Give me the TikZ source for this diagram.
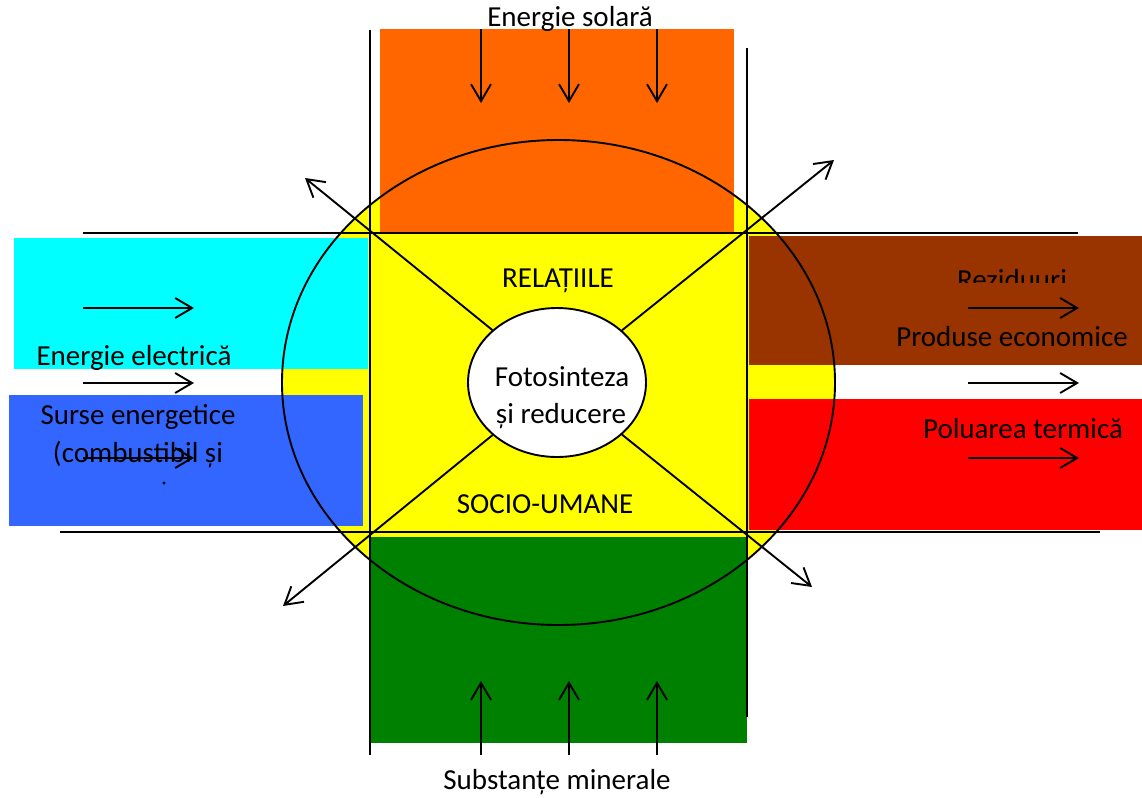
\documentclass[tikz,border=0pt]{standalone}
\usepackage{fontspec}
\setmainfont{Carlito}
\usetikzlibrary{arrows.meta,shapes.geometric}
\definecolor{corange}{HTML}{FF6600}
\definecolor{ccyan}{HTML}{00FFFF}
\definecolor{cblue}{HTML}{3366FF}
\definecolor{cbrown}{HTML}{993300}
\definecolor{cred}{HTML}{FF0000}
\definecolor{cgreen}{HTML}{008000}
\definecolor{cyellow}{HTML}{FFFF00}
\tikzset{
  ln/.style={line width=1.9pt, black},
  arr/.style={line width=1.9pt, black, -{Straight Barb[length=17pt,width=20pt,line width=1.9pt]}},
  lbl/.style={inner sep=0pt, anchor=base, font=\fontsize{29}{34}\selectfont},
}
\begin{document}
\begin{tikzpicture}[x=1pt,y=-1pt]
\useasboundingbox (0,0) rectangle (1142,797);
% yellow field
\coordinate (c) at (558.5,382.5);
\fill[cyellow] (c) ellipse [x radius=276.5pt, y radius=242.5pt];
% coloured boxes
\fill[corange] (380,29) rectangle (734,232);
\fill[ccyan] (14,238) rectangle (368,369);
\fill[cblue] (9,395) rectangle (363,526);
\fill[cbrown] (749,236) rectangle (1142,365);
\fill[cred] (749,399) rectangle (1142,530);
\fill[cgreen] (371,537) rectangle (747,743);
% frame lines
\coordinate (h1a) at (83,233);  \coordinate (h1b) at (1078,233);
\coordinate (h2a) at (60,532);  \coordinate (h2b) at (1100,532);
\coordinate (v1a) at (370,30);  \coordinate (v1b) at (370,755);
\coordinate (v2a) at (747,48);  \coordinate (v2b) at (747,717);
\draw[ln] (h1a) -- (h1b);
\draw[ln] (h2a) -- (h2b);
\draw[ln] (v1a) -- (v1b);
\draw[ln] (v2a) -- (v2b);
% outer ellipse outline
\draw[ln] (c) ellipse [x radius=276.5pt, y radius=242.5pt];
% inner ellipse
\node[ellipse, draw, line width=1.9pt, fill=white, minimum width=178pt, minimum height=149pt, inner sep=0pt] (in) at (557,382.5) {};
% diagonal arrows
\coordinate (tl) at (305,178);
\coordinate (tr) at (834,160);
\coordinate (bl) at (283,606);
\coordinate (br) at (812,587);
\draw[arr] (in) -- (tl);
\draw[arr] (in) -- (tr);
\draw[arr] (in) -- (bl);
\draw[arr] (in) -- (br);
% solar and mineral arrows
\foreach \x [count=\i] in {481,569,657}{
  \coordinate (s\i a) at (\x,29); \coordinate (s\i b) at (\x,103);
  \draw[arr] (s\i a) -- (s\i b);
  \coordinate (m\i a) at (\x,755); \coordinate (m\i b) at (\x,681);
  \draw[arr] (m\i a) -- (m\i b);
}
% left and right arrows
\foreach \y [count=\i] in {308,383,458}{
  \coordinate (l\i a) at (83,\y); \coordinate (l\i b) at (194,\y);
  \draw[arr] (l\i a) -- (l\i b);
  \coordinate (r\i a) at (968,\y); \coordinate (r\i b) at (1079,\y);
  \draw[arr] (r\i a) -- (r\i b);
}
% texts
\node[lbl] (tsol) at (570,27) {Energie solară};
\node[lbl] (tmin) at (557,789) {Substanțe minerale};
\node[lbl] (tel) at (134,365) {Energie electrică};
\node[lbl] (tsu1) at (138,424) {Surse energetice};
\node[lbl] (tsu2) at (138,462) {(combustibil și};
\fill (164,483) circle (1.6pt);
\begin{scope}
\clip (749,236) rectangle (1142,282);
\node[lbl] (trez) at (1012,289) {Reziduuri};
\end{scope}
\node[lbl] (tpro) at (1012,346) {Produse economice};
\node[lbl] (tpol) at (1023,438) {Poluarea termică};
\node[lbl] (trel) at (558,287) {RELAȚIILE};
\node[lbl] (tsoc) at (545,513) {SOCIO-UMANE};
\node[lbl] (tfo1) at (562,386) {Fotosinteza};
\node[lbl] (tfo2) at (561,423) {și reducere};
\end{tikzpicture}
\end{document}
